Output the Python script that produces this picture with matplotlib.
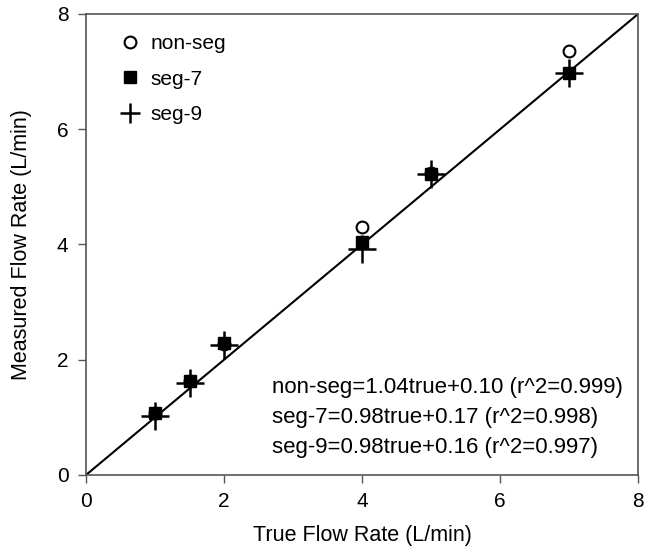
import matplotlib
matplotlib.use("Agg")
import matplotlib.pyplot as plt
from matplotlib.lines import Line2D

plt.rcParams['font.family'] = ['Liberation Sans', 'DejaVu Sans']

true_rate = [1, 1.5, 2, 4, 5, 7]
nonseg = [1.08, 1.63, 2.28, 4.30, 5.24, 7.36]
seg7 = [1.07, 1.63, 2.29, 4.04, 5.23, 6.97]
seg9 = [1.03, 1.60, 2.25, 3.92, 5.22, 6.97]
ident = [0, 8]
series_names = ['non-seg', 'seg-7', 'seg-9']
eq_lines = ["non-seg=1.04true+0.10 (r^2=0.999)",
            "seg-7=0.98true+0.17 (r^2=0.998)",
            "seg-9=0.98true+0.16 (r^2=0.997)"]

fig = plt.figure(figsize=(6.45, 5.49), dpi=100)
ax = fig.add_axes([0.1333, 0.1348, 0.856, 0.8397])

ax.plot(ident, ident, color='black', lw=1.5, zorder=1)
ax.plot(true_rate, nonseg, 'o', mfc='white', mec='black', mew=1.5, ms=8.5, ls='none', zorder=2)
ax.plot(true_rate, seg9, '+', color='black', mew=1.8, ms=19.5, ls='none', zorder=3)
ax.plot(true_rate, seg7, 's', color='black', ms=9, ls='none', zorder=4)

hs = [Line2D([], [], marker='o', mfc='white', mec='black', mew=1.5, ms=8.5, ls='none'),
      Line2D([], [], marker='s', color='black', ms=9, ls='none'),
      Line2D([], [], marker='+', color='black', mew=1.8, ms=14, ls='none')]
ax.legend(hs, series_names, loc='upper left', frameon=False,
          fontsize=15, handlelength=1.0, handletextpad=0.5, labelspacing=0.8,
          borderaxespad=0.0, bbox_to_anchor=(0.045, 0.975))

for i, t in enumerate(eq_lines):
    ax.text(0.337, 0.189 - i * 0.065, t, transform=ax.transAxes, fontsize=16, va='center')

ax.set_xlim(0, 8)
ax.set_ylim(0, 8)
ax.set_xticks([0, 2, 4, 6, 8])
ax.set_yticks([0, 2, 4, 6, 8])
ax.tick_params(direction='out', labelsize=15, length=5.5, width=1.0, color='#555555')
ax.tick_params(axis='x', pad=7)
ax.tick_params(axis='y', pad=7)
for s in ax.spines.values():
    s.set_color('#555555')
    s.set_linewidth(1.2)
ax.set_xlabel('True Flow Rate (L/min)', fontsize=15.5, labelpad=10)
ax.set_ylabel('Measured Flow Rate (L/min)', fontsize=15.5, labelpad=18)

fig.savefig('out.png', dpi=100)
